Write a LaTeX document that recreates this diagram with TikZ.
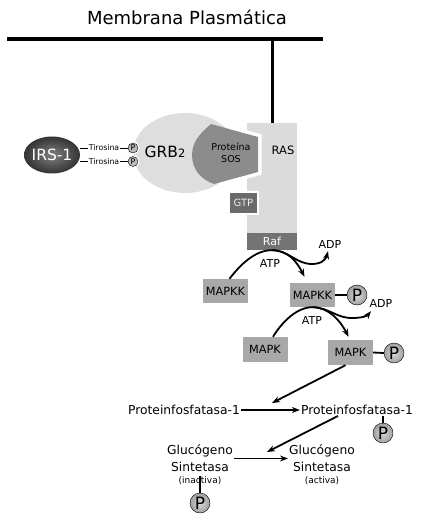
\documentclass[tikz,border=0pt]{standalone}
\usepackage{fontspec}
\setmainfont{DejaVu Sans}
\usetikzlibrary{arrows.meta,positioning,shapes.geometric}

\definecolor{raslight}{gray}{0.86}
\definecolor{grblight}{gray}{0.87}
\definecolor{sosgray}{gray}{0.55}
\definecolor{gtpgray}{gray}{0.42}
\definecolor{rafgray}{gray}{0.45}
\definecolor{kinasegray}{gray}{0.66}

\begin{document}
\begin{tikzpicture}[x=1pt, y=-1pt, >={Stealth[length=8pt,width=6pt]}]
  \tikzstyle{kinase} = [rectangle, fill=kinasegray, minimum width=45pt,
  minimum height=24pt, inner sep=0pt, font=\fontsize{11.3}{13}\selectfont]
  \tikzstyle{phos} = [circle, draw, minimum size=20pt, inner sep=0pt,
  shading=radial, inner color=gray!30, outer color=gray!75,
  font=\fontsize{17}{17}\selectfont]
  \tikzstyle{tyrp} = [circle, draw, minimum size=10pt, inner sep=0pt,
  fill=gray!55, preaction={draw=white, line width=3pt},
  font=\fontsize{8}{8}\selectfont]
  \tikzstyle{enzyme} = [align=center, inner sep=1pt,
  font=\fontsize{12.3}{17}\selectfont]
  \tikzstyle{state} = [inner sep=1pt, font=\fontsize{9}{9}\selectfont]
  \tikzstyle{nucleo} = [inner sep=1pt, font=\fontsize{11}{12}\selectfont]
  \tikzstyle{link} = [line width=1.8pt]

  \useasboundingbox (0,0) rectangle (425,521);

  % Membrane
  \node[font=\fontsize{18}{20}\selectfont] (title) at (187,17) {Membrana Plasmática};
  \coordinate (memL) at (7,39);
  \coordinate (memR) at (323,39);
  \draw[line width=4pt] (memL) -- (memR);

  % RAS and Raf
  \node[fill=raslight, minimum width=50pt, minimum height=110pt, inner sep=0pt] (ras) at (272,178) {};
  \node[fill=rafgray, minimum width=50pt, minimum height=17pt, inner sep=0pt,
  text=white, font=\fontsize{11}{11}\selectfont] (raf) at (272,241.5) {Raf};
  \draw[line width=3pt] (ras.north) -- (ras.north |- memL);
  \node[font=\fontsize{11.5}{12}\selectfont] (raslbl) at (283,150) {RAS};

  % GRB2 and SOS
  \node[ellipse, fill=grblight, minimum width=104pt, minimum height=80pt] (grb) at (185,153) {};
  \def\sospath{(258,137) -- (211,124) .. controls (203,131) and (192,140) .. (192,155)
    .. controls (192,170) and (202,180) .. (214,184) -- (258,172) -- cycle}
  \begin{scope}
    \clip (244,100) rectangle (300,200);
    \draw[white, line width=7pt] \sospath;
  \end{scope}
  \fill[sosgray] \sospath;
  \node[align=center, font=\fontsize{9.5}{12}\selectfont] (sos) at (231,153) {Proteína\\SOS};
  \node[font=\fontsize{15.5}{15}\selectfont] (grblbl) at (165,152)
    {GRB{\fontsize{11.5}{11}\selectfont 2}};
  \node[fill=gtpgray, draw=white, line width=2.5pt, minimum width=29pt, minimum height=22pt,
  inner sep=0pt, text=white!85!gray, font=\fontsize{10}{10}\selectfont] (gtp) at (243.5,203) {GTP};

  % IRS-1
  \node[ellipse, minimum width=56pt, minimum height=37pt, inner sep=0pt, shading=radial,
  inner color=black!50, outer color=black!80] (irs) at (52,155) {};
  \node[text=white, font=\fontsize{15.5}{16}\selectfont] (irslbl) at (irs) {IRS-1};
  \node[tyrp] (py1) at (133,148) {P};
  \node[tyrp] (py2) at (133,161.5) {P};
  \draw[thick] (irs.east |- py1) -- node[fill=white, inner sep=1pt,
    font=\fontsize{7.8}{8}\selectfont] {Tirosina} (py1);
  \draw[thick] (irs.east |- py2) -- node[fill=white, inner sep=1pt,
    font=\fontsize{7.8}{8}\selectfont] {Tirosina} (py2);

  % Kinase cascade
  \node[kinase] (mkkA) at (225.5,291) {MAPKK};
  \node[kinase] (mkkB) at (312.5,295) {MAPKK};
  \node[kinase, minimum height=25pt] (mkA) at (265,349.5) {MAPK};
  \node[kinase, minimum height=25pt] (mkB) at (350.5,352.5) {MAPK};
  \node[phos] (pmkk) at (357,295) {P};
  \node[phos] (pmk) at (394,353) {P};
  \draw[link] (mkkB.east) -- (pmkk.west);
  \draw[link] (mkB.east) -- (pmk.west);

  \node[nucleo] (atp1) at (270,263) {ATP};
  \node[nucleo] (adp1) at (330,244) {ADP};
  \node[nucleo] (atp2) at (312,320) {ATP};
  \node[nucleo] (adp2) at (381,303) {ADP};

  \draw[link, ->] ([xshift=4pt]mkkA.north) .. controls (240,265) and (255,250) .. (raf.south)
    .. controls (288,250) and (297,262) .. ([shift={(-8,-6)}]mkkB.north);
  \draw[link, ->] (raf.south) .. controls (290,251) and (296,264) .. (312,264)
    .. controls (322,264) and (326,259) .. ([xshift=-2pt,yshift=-2pt]adp1.south);
  \draw[link, ->] ([xshift=8pt]mkA.north) .. controls (282,322) and (297,307) .. (mkkB.south)
    .. controls (328,307) and (340,320) .. ([shift={(-2,-3)}]mkB.north);
  \draw[link, ->] (mkkB.south) .. controls (330,308) and (336,318) .. (352,318)
    .. controls (362,318) and (367,316) .. ([xshift=-10pt,yshift=-3pt]adp2.south);

  % Phosphatase and glycogen synthase
  \node[enzyme] (pf1) at (184,410) {Proteinfosfatasa-1};
  \node[enzyme] (pf2) at (357,410) {Proteinfosfatasa-1};
  \node[phos] (ppf) at (383,433) {P};
  \node[enzyme] (gs1) at (200,458.5) {Glucógeno\\Sintetasa};
  \node[enzyme] (gs2) at (322,458.5) {Glucógeno\\Sintetasa};
  \node[state] (inact) at (200,481) {(inactiva)};
  \node[state] (act) at (322,481) {(activa)};
  \node[phos] (pgs) at (200,503) {P};
  \draw[link] (ppf.north) -- (ppf.north |- pf2.south);
  \draw[link] (pgs.north) -- (inact.north);

  \coordinate (hit1) at (272,403);
  \coordinate (hit2) at (267,452);
  \path
    [link, ->] ([xshift=-5pt]mkB.south) edge (hit1)
    [link, ->] (pf1.east) edge (pf2.west)
    [link, ->] ([xshift=-19pt]pf2.south) edge (hit2)
    [link, ->] (gs1.east) edge (gs2.west);
\end{tikzpicture}
\end{document}
